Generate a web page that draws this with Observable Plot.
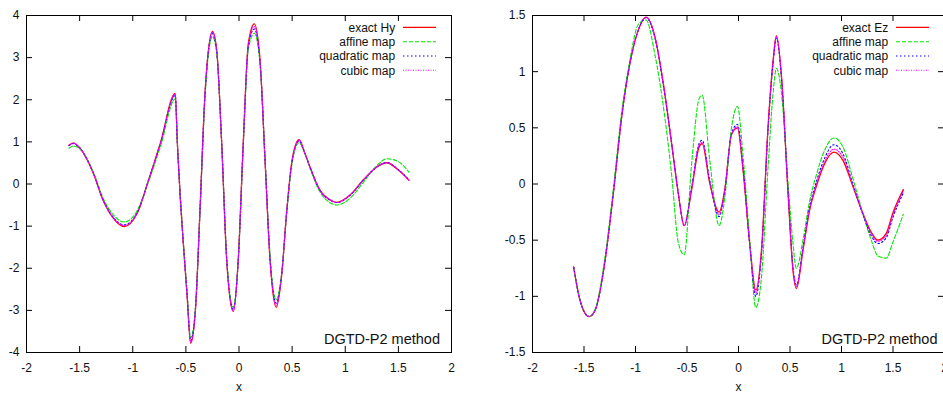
<!DOCTYPE html>
<html>
<head>
<meta charset="utf-8">
<script src="https://cdn.jsdelivr.net/npm/d3@7"></script>
<script src="https://cdn.jsdelivr.net/npm/@observablehq/plot@0.6"></script>
<style>
  html, body { margin: 0; padding: 0; background: #fff; overflow: hidden; }
  #wrap { position: relative; width: 943px; height: 394px; overflow: hidden; background: #fff; }
  #wrap svg { position: absolute; top: 0; }
</style>
</head>
<body>
<div id="wrap"></div>
<script>
// ---------- data ----------
const seriesNames = ["affine map", "quadratic map", "cubic map"];
const xTicks = [-2, -1.5, -1, -0.5, 0, 0.5, 1, 1.5, 2];
const hyTicks = [-4, -3, -2, -1, 0, 1, 2, 3, 4];
const ezTicks = [-1.5, -1, -0.5, 0, 0.5, 1, 1.5];
const noteText = "DGTD-P2 method";

const hyX = [-1.6, -1.56, -1.5, -1.37, -1.28, -1.18, -1.08, -0.96, -0.85, -0.74, -0.6, -0.58, -0.555, -0.524, -0.49, -0.455, -0.41, -0.367, -0.32, -0.25, -0.21, -0.163, -0.116, -0.054, -0.007, 0.04, 0.088, 0.144, 0.198, 0.245, 0.292, 0.35, 0.40, 0.45, 0.50, 0.565, 0.62, 0.67, 0.76, 0.86, 0.92, 1.045, 1.17, 1.30, 1.39, 1.50, 1.60];
const hyExact = [0.92, 0.97, 0.86, 0.25, -0.38, -0.82, -1.01, -0.70, 0.10, 0.97, 2.15, 0.97, -0.22, -1.41, -2.59, -3.78, -2.99, -0.62, 2.15, 3.62, 3.18, 0.97, -1.80, -3.03, -1.80, 0.97, 3.34, 3.80, 2.94, 0.57, -1.80, -2.93, -2.2, -0.62, 0.57, 1.05, 0.73, 0.39, -0.14, -0.38, -0.435, -0.26, 0.095, 0.41, 0.505, 0.33, 0.09];
const hyAffine = [0.85, 0.90, 0.84, 0.28, -0.33, -0.74, -0.90, -0.64, 0.07, 0.88, 2.02, 0.95, -0.20, -1.38, -2.52, -3.65, -2.93, -0.64, 2.05, 3.50, 3.12, 0.97, -1.72, -2.92, -1.78, 0.90, 3.20, 3.58, 2.85, 0.60, -1.68, -2.75, -2.15, -0.66, 0.50, 0.98, 0.72, 0.36, -0.18, -0.45, -0.50, -0.34, 0.04, 0.44, 0.60, 0.53, 0.28];
const hyQuad = [0.91, 0.96, 0.86, 0.25, -0.37, -0.80, -0.97, -0.69, 0.10, 0.96, 2.10, 0.96, -0.22, -1.40, -2.57, -3.72, -2.97, -0.62, 2.12, 3.57, 3.15, 0.97, -1.78, -2.98, -1.80, 0.95, 3.28, 3.68, 2.90, 0.58, -1.76, -2.83, -2.18, -0.63, 0.55, 1.02, 0.73, 0.39, -0.14, -0.39, -0.44, -0.27, 0.09, 0.41, 0.51, 0.34, 0.10];
const hyCubic = [0.92, 0.97, 0.86, 0.25, -0.38, -0.81, -0.99, -0.70, 0.10, 0.97, 2.13, 0.97, -0.22, -1.41, -2.58, -3.75, -2.98, -0.62, 2.14, 3.60, 3.17, 0.97, -1.79, -3.01, -1.80, 0.96, 3.31, 3.74, 2.92, 0.57, -1.78, -2.88, -2.19, -0.62, 0.56, 1.04, 0.73, 0.39, -0.14, -0.38, -0.44, -0.26, 0.095, 0.41, 0.505, 0.33, 0.09];

const ezX = [-1.6, -1.54, -1.45, -1.39, -1.31, -1.215, -1.134, -1.053, -0.973, -0.898, -0.811, -0.731, -0.649, -0.585, -0.527, -0.455, -0.382, -0.353, -0.279, -0.188, -0.133, -0.068, -0.01, 0.044, 0.109, 0.168, 0.223, 0.287, 0.336, 0.368, 0.417, 0.481, 0.529, 0.562, 0.626, 0.691, 0.756, 0.836, 0.926, 1.014, 1.11, 1.207, 1.289, 1.353, 1.434, 1.498, 1.6];
const ezExact = [-0.74, -1.03, -1.18, -1.12, -0.77, -0.08, 0.60, 1.08, 1.37, 1.486, 1.31, 0.90, 0.36, -0.08, -0.37, -0.05, 0.33, 0.36, 0.006, -0.25, -0.05, 0.44, 0.50, 0.125, -0.53, -0.945, -0.59, 0.51, 1.10, 1.32, 0.96, -0.08, -0.77, -0.93, -0.59, -0.23, -0.02, 0.18, 0.283, 0.21, -0.02, -0.26, -0.43, -0.50, -0.44, -0.26, -0.05];
const ezAffine = [-0.74, -1.03, -1.18, -1.11, -0.74, -0.04, 0.64, 1.11, 1.42, 1.46, 1.15, 0.70, 0.08, -0.52, -0.63, 0.18, 0.76, 0.79, 0.21, -0.37, -0.12, 0.50, 0.69, 0.25, -0.50, -1.10, -0.83, 0.15, 0.81, 1.03, 0.81, 0.01, -0.53, -0.75, -0.50, -0.15, 0.08, 0.30, 0.41, 0.33, 0.05, -0.26, -0.50, -0.64, -0.66, -0.52, -0.27];
const ezQuad = [-0.74, -1.03, -1.18, -1.12, -0.77, -0.08, 0.60, 1.08, 1.37, 1.48, 1.30, 0.89, 0.36, -0.08, -0.37, -0.03, 0.36, 0.39, 0.03, -0.29, -0.06, 0.45, 0.53, 0.15, -0.54, -1.00, -0.62, 0.49, 1.08, 1.30, 0.95, -0.06, -0.74, -0.90, -0.57, -0.20, 0.02, 0.23, 0.35, 0.27, 0.00, -0.27, -0.46, -0.53, -0.48, -0.30, -0.08];
const ezCubic = [-0.74, -1.03, -1.18, -1.12, -0.77, -0.08, 0.60, 1.08, 1.37, 1.485, 1.31, 0.90, 0.36, -0.08, -0.37, -0.04, 0.35, 0.37, 0.02, -0.27, -0.05, 0.44, 0.51, 0.13, -0.53, -0.97, -0.60, 0.50, 1.09, 1.31, 0.96, -0.07, -0.76, -0.91, -0.58, -0.22, 0.00, 0.20, 0.31, 0.24, -0.01, -0.26, -0.44, -0.51, -0.46, -0.28, -0.06];

// ---------- styles ----------
const styles = [
  {stroke: "#ff0000", strokeWidth: 1.3, strokeDasharray: null},
  {stroke: "#00e600", strokeWidth: 1.1, strokeDasharray: "4,2"},
  {stroke: "#0000ff", strokeWidth: 1.1, strokeDasharray: "1.5,2.5"},
  {stroke: "#ff00ff", strokeWidth: 1.1, strokeDasharray: "1,1.5"}
];
const FONT = "'Liberation Sans', Arial, Helvetica, sans-serif";
const fmt = d => String(d);

function panel(cfg) {
  const H = 394, mT = 15, mB = 42;
  const fw = cfg.width - cfg.mL - cfg.mR, fh = H - mT - mB;
  const names = [cfg.exactName, ...seriesNames];
  const marks = [
    Plot.frame({stroke: "#000", strokeWidth: 1}),
    Plot.ruleX(xTicks, {insetTop: fh - 6, stroke: "#000"}),
    Plot.ruleX(xTicks, {insetBottom: fh - 6, stroke: "#000"}),
    Plot.ruleY(cfg.yTicks, {insetRight: fw - 6, stroke: "#000"}),
    Plot.ruleY(cfg.yTicks, {insetLeft: fw - 6, stroke: "#000"}),
    Plot.axisX({ticks: xTicks, tickSize: 0, tickPadding: 10.5, tickFormat: fmt, label: null, fill: "#111"}),
    Plot.axisY({ticks: cfg.yTicks, tickSize: 0, tickPadding: 7, tickFormat: fmt, label: null, fill: "#111"}),
    Plot.text(["x"], {frameAnchor: "bottom", dy: 35, lineAnchor: "middle", fill: "#111", fontSize: 12})
  ];
  cfg.series.forEach((ys, i) => {
    marks.push(Plot.line(ys, {x: cfg.xs, y: d => d, curve: "monotone-x", ...styles[i]}));
  });
  marks.push(Plot.text([noteText], {frameAnchor: "bottom-right", textAnchor: "end", lineAnchor: "middle",
    dx: cfg.noteDx, dy: -13.5, fontSize: 14.5, fill: "#111"}));
  const svg = Plot.plot({
    width: cfg.width, height: H,
    marginLeft: cfg.mL, marginRight: cfg.mR, marginTop: mT, marginBottom: mB,
    x: {domain: [-2, 2]},
    y: {domain: cfg.yDomain},
    style: {fontFamily: FONT, fontSize: "12px", background: "transparent", overflow: "visible"},
    marks
  });
  // in-plot legend (gnuplot style, top-right)
  const fr = cfg.width - cfg.mR;
  const g = d3.select(svg).append("g").attr("font-family", FONT).attr("font-size", 12);
  const rows = [27.4, 41.7, 56.0, 70.3];
  names.forEach((n, i) => {
    g.append("text").attr("x", fr - 55.8).attr("y", rows[i]).attr("dy", "0.35em")
      .attr("text-anchor", "end").attr("fill", "#111").text(n);
    const ln = g.append("line").attr("x1", fr - 48).attr("x2", fr - 15)
      .attr("y1", rows[i]).attr("y2", rows[i])
      .attr("stroke", styles[i].stroke).attr("stroke-width", styles[i].strokeWidth);
    if (styles[i].strokeDasharray) ln.attr("stroke-dasharray", styles[i].strokeDasharray);
  });
  svg.style.left = cfg.left + "px";
  return svg;
}

const wrap = document.getElementById("wrap");
wrap.appendChild(panel({
  left: 0, width: 470, mL: 26, mR: 19,
  xs: hyX, series: [hyExact, hyAffine, hyQuad, hyCubic],
  yDomain: [-4, 4], yTicks: hyTicks, exactName: "exact Hy", noteDx: -11.5
}));
wrap.appendChild(panel({
  left: 473, width: 472, mL: 59, mR: 1,
  xs: ezX, series: [ezExact, ezAffine, ezQuad, ezCubic],
  yDomain: [-1.5, 1.5], yTicks: ezTicks, exactName: "exact Ez", noteDx: -7
}));
</script>
</body>
</html>
